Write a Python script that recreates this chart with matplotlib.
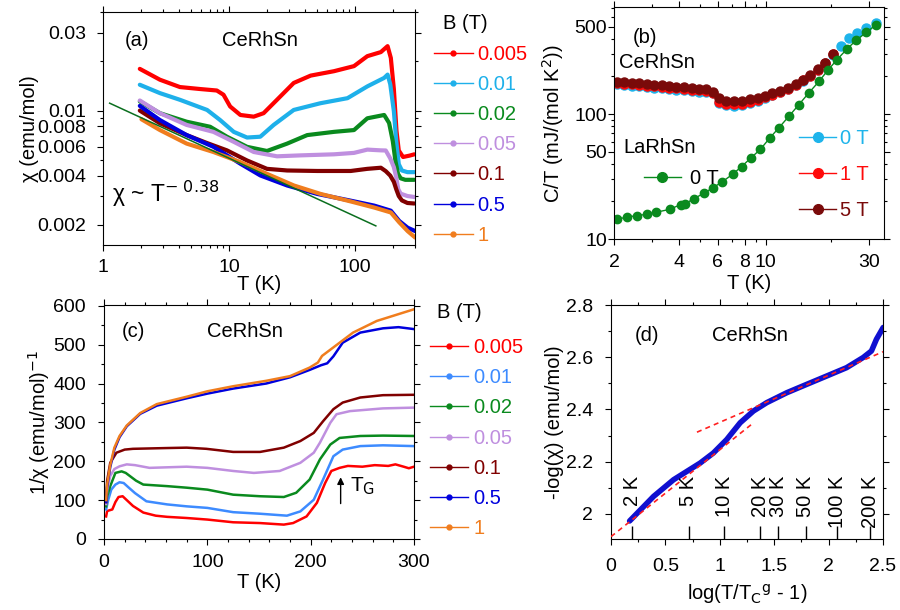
import numpy as np
import matplotlib
matplotlib.use("Agg")
from matplotlib import pyplot as plt
from matplotlib.lines import Line2D
from matplotlib.ticker import FixedLocator, NullFormatter, MultipleLocator, LogLocator

plt.rcParams['font.family'] = ['Liberation Sans', 'DejaVu Sans']
plt.rcParams['font.size'] = 14
plt.rcParams['axes.linewidth'] = 0.8

FS = 14.5  # text / label size

# field values and colours shared by panels (a) and (c)
fields = ["0.005", "0.01", "0.02", "0.05", "0.1", "0.5", "1"]
cols_a = ["#ff0000", "#1eb0ea", "#0a8a1e", "#bf8fdf", "#800000", "#0000dd", "#f07d1e"]
cols_c = ["#ff0000", "#3d8bff", "#0a8a1e", "#bf8fdf", "#800000", "#0000dd", "#f07d1e"]

# (a) chi(T), emu/mol
T_a = [
    [1.96, 2.83, 4.08, 5.89, 8.0, 9.04, 10.2, 12.3, 15.7, 18.8, 24, 32.6, 44.4, 68, 98, 125, 160,
     181, 192, 203, 213, 222, 240, 270, 295],
    [1.96, 2.83, 4.08, 6.7, 8.5, 10.9, 13.9, 17.7, 22.6, 32.6, 53, 87, 125, 170, 181, 190, 203,
     212, 222, 235, 260, 295],
    [1.96, 2.83, 4.61, 7.08, 9.62, 13.9, 20.0, 28.9, 41.7, 68, 98, 125, 170, 186, 199, 209, 219,
     230, 250, 295],
    [1.96, 2.83, 4.61, 7.52, 10.9, 15.7, 24.0, 36.9, 68, 98, 125, 160, 175, 190, 203, 212, 220,
     230, 260, 295],
    [1.96, 2.83, 4.61, 6.65, 9.62, 13.9, 20.0, 28.9, 50.1, 92.3, 125, 160, 175, 190, 203, 212,
     222, 235, 260, 295],
    [1.96, 2.83, 4.61, 7.52, 12.3, 17.7, 28.9, 50.1, 92.3, 142, 192, 224, 261, 300],
    [2.02, 2.83, 4.61, 7.52, 12.3, 20.0, 32.7, 53.2, 92.3, 142, 192, 224, 261, 300],
]
chi_a = [
    [0.0180, 0.01545, 0.01393, 0.01355, 0.01327, 0.0125, 0.0106, 0.0094, 0.00918, 0.00964, 0.01164,
     0.01476, 0.01637, 0.01742, 0.01871, 0.02153, 0.0228, 0.0248, 0.021, 0.0135, 0.0075, 0.0057,
     0.0052, 0.0053, 0.0054],
    [0.01439, 0.01279, 0.01164, 0.01009, 0.00875, 0.00741, 0.00684, 0.00692, 0.00817, 0.01009,
     0.01109, 0.01191, 0.01406, 0.01585, 0.0166, 0.0145, 0.0099, 0.0065, 0.0047, 0.0043, 0.0042,
     0.0042],
    [0.01138, 0.00964, 0.00855, 0.00796, 0.00692, 0.0060, 0.00566, 0.00628, 0.00708, 0.00741,
     0.0076, 0.00897, 0.0094, 0.0084, 0.0065, 0.0049, 0.0041, 0.00385, 0.00377, 0.00377],
    [0.01153, 0.00964, 0.00817, 0.00741, 0.00644, 0.00558, 0.00525, 0.00532, 0.0054, 0.00551,
     0.00577, 0.00571, 0.0057, 0.0051, 0.0045, 0.0039, 0.0033, 0.0031, 0.0030, 0.00296],
    [0.0100, 0.00836, 0.00708, 0.00634, 0.00571, 0.00495, 0.0044, 0.0043, 0.00427, 0.00427,
     0.0044, 0.00447, 0.00426, 0.0040, 0.00366, 0.0033, 0.0030, 0.00282, 0.00272, 0.0027],
    [0.01069, 0.00875, 0.00708, 0.0060, 0.00473, 0.00401, 0.00348, 0.00309, 0.00281, 0.00262,
     0.00244, 0.00211, 0.00192, 0.00183],
    [0.00885, 0.0076, 0.00628, 0.00558, 0.00484, 0.0041, 0.00348, 0.00309, 0.00278, 0.00255,
     0.00238, 0.00207, 0.00183, 0.00167],
]
# power-law guide line end points
fit_T = [1.13, 146]
fit_chi = [0.0111, 0.00197]

# (c) 1/chi(T)
T_c = [
    [2, 3, 8, 11, 14, 18, 22, 28, 38, 50, 61, 80, 100, 125, 151, 174, 183, 196, 206, 214, 220, 228,
     236, 250, 262, 275, 282, 290, 295, 300],
    [2, 4, 7, 11, 15, 19, 24, 30, 41, 61, 80, 100, 125, 151, 177, 190, 203, 212, 222, 231, 248,
     270, 300],
    [2, 3, 6, 11, 17, 21, 25, 31, 38, 61, 80, 100, 125, 151, 174, 186, 199, 209, 219, 228, 248,
     270, 300],
    [2, 3, 6, 10, 15, 22, 30, 44, 80, 100, 125, 145, 170, 190, 203, 209, 219, 225, 238, 270, 300],
    [2, 3, 6, 12, 20, 28, 61, 80, 99, 125, 151, 174, 190, 203, 212, 222, 231, 248, 270, 300],
    [2, 3, 6, 10, 15, 22, 35, 51, 80, 100, 125, 157, 180, 199, 210, 216, 222, 231, 248, 270, 285,
     300],
    [2, 3, 6, 10, 15, 22, 35, 51, 80, 100, 125, 157, 180, 199, 207, 211, 222, 241, 264, 300],
]
inv_c = [
    [58, 72, 76, 95, 108, 110, 100, 85, 68, 60, 57, 54, 50, 43, 41, 37, 41, 58, 93, 144, 175, 183,
     188, 186, 190, 188, 192, 186, 182, 186],
    [76, 100, 127, 140, 146, 144, 132, 118, 97, 89, 84, 80, 69, 65, 60, 71, 101, 153, 213, 230, 239,
     241, 239],
    [84, 110, 136, 170, 174, 170, 162, 150, 140, 136, 132, 127, 114, 110, 108, 119, 153, 205, 243,
     260, 265, 266, 265],
    [90, 125, 162, 180, 187, 192, 190, 183, 186, 183, 175, 170, 175, 196, 222, 248, 299, 321, 329,
     336, 338],
    [95, 150, 196, 222, 230, 232, 234, 235, 232, 224, 224, 235, 252, 273, 303, 334, 351, 364, 370,
     371],
    [95, 135, 185, 230, 262, 290, 322, 343, 362, 374, 387, 400, 416, 435, 447, 452, 470, 505, 531,
     542, 545, 540],
    [100, 140, 190, 235, 265, 292, 324, 347, 366, 380, 393, 407, 419, 441, 454, 471, 493, 531, 561,
     591],
]

# (b) specific heat C/T, mJ/(mol K^2)
T_ce = [2.06, 2.22, 2.41, 2.60, 2.83, 3.05, 3.31, 3.58, 3.88, 4.20, 4.55, 4.92, 5.33, 5.72, 6.08,
        6.59, 7.15, 7.78, 8.44, 9.16, 9.93, 10.7, 11.6, 12.6, 13.7, 14.8, 16.0, 17.3, 18.8, 20.3,
        22.1, 24.2, 26.4, 29.0, 32.1]
ct_0T = [173, 171, 169, 167, 165, 163, 161, 159, 157, 155, 153, 151, 150, 146, 123, 118, 117, 118,
         122, 128, 134, 141, 149, 159, 171, 185, 202, 225, 255, 298, 347, 405, 443, 489, 536]
ct_1T = [177, 175, 173, 171, 169, 167, 165, 163, 161, 159, 157, 155, 153, 148, 126, 121, 120, 121,
         125, 130, 136, 143, 151, 160, 172, 186, 203, 226, 254, 300]
ct_5T = [181, 179, 178, 176, 174, 172, 170, 168, 166, 164, 162, 160, 158, 150, 134, 128, 127, 128,
         131, 135, 140, 146, 153, 162, 174, 188, 205, 230, 258, 302]
T_la = [2.06, 2.29, 2.54, 2.83, 3.12, 3.62, 4.05, 4.24, 4.67, 5.20, 5.72, 6.30, 7.03, 7.73, 8.53,
        9.45, 10.4, 11.5, 12.8, 14.2, 15.8, 17.6, 19.3, 21.3, 23.6, 26.1, 29.0, 32.3]
ct_la = [14.4, 15.0, 15.4, 15.8, 16.4, 17.3, 18.9, 19.1, 21.1, 23.3, 25.8, 28.7, 33.0, 38.0, 44.5,
         52.3, 64.0, 77.8, 96.4, 119, 148, 183, 224, 273, 330, 390, 449, 520]

# (d) scaling plot
x_d = [0.171, 0.391, 0.575, 0.82, 0.94, 1.064, 1.187, 1.309, 1.431, 1.615, 1.798, 1.982, 2.165,
       2.318, 2.394, 2.44, 2.502]
y_d = [1.973, 2.067, 2.131, 2.195, 2.233, 2.285, 2.349, 2.394, 2.426, 2.464, 2.496, 2.528, 2.56,
       2.599, 2.624, 2.669, 2.714]
fit1_x, fit1_y = [0.0, 1.31], [1.913, 2.349]
fit2_x, fit2_y = [0.79, 2.50], [2.313, 2.621]
tk_pos = [0.196, 0.713, 1.043, 1.37, 1.538, 1.79, 2.08, 2.385]
tk_lab = ["2 K", "5 K", "10 K", "20 K", "30 K", "50 K", "100 K", "200 K"]


def style(ax, xpad=6, ypad=5):
    ax.tick_params(which='both', direction='out', top=True, right=True, width=0.8,
                   labelsize=14)
    ax.tick_params(which='major', length=4)
    ax.tick_params(which='minor', length=2.5)
    ax.tick_params(axis='x', pad=xpad)
    ax.tick_params(axis='y', pad=ypad)


def field_legend(ax, cols, x0, y0, tx, ty):
    handles = [Line2D([], [], color=c, lw=1, marker='o', ms=3.5) for c in cols]
    ax.legend(handles, fields, loc='upper left', bbox_to_anchor=(x0, y0), frameon=False,
              handlelength=1.9, handletextpad=0.25, labelspacing=0.55, borderaxespad=0,
              fontsize=FS, labelcolor=cols)
    ax.text(tx, ty, "B (T)", transform=ax.transAxes, fontsize=FS, va='center')


fig = plt.figure(figsize=(9, 6.1), dpi=100)

# ---- (a) chi vs T, log-log
ax = fig.add_axes([0.1144, 0.598, 0.347, 0.382])
for t, c, col in zip(T_a, chi_a, cols_a):
    ax.plot(t, c, color=col, lw=3, solid_capstyle='round')
ax.plot(fit_T, fit_chi, color='#0a6e1e', lw=1.1)
ax.set_xscale('log')
ax.set_yscale('log')
ax.set_xlim(1, 300)
ax.set_ylim(0.0015, 0.04)
ax.set_xticks([1, 10, 100], ["1", "10", "100"])
ax.set_yticks([0.002, 0.004, 0.006, 0.008, 0.01, 0.03],
              ["0.002", "0.004", "0.006", "0.008", "0.01", "0.03"])
ax.yaxis.set_minor_locator(FixedLocator([0.003, 0.005, 0.007, 0.009, 0.02, 0.04]))
ax.yaxis.set_minor_formatter(NullFormatter())
ax.xaxis.set_minor_formatter(NullFormatter())
style(ax, xpad=6, ypad=8)
ax.set_xlabel("T (K)", fontsize=FS, labelpad=-1)
ax.set_ylabel("χ (emu/mol)", fontsize=FS, labelpad=-1)
ax.text(1.5, 0.0267, "(a)", fontsize=FS, va='center')
ax.text(17.7, 0.0267, "CeRhSn", fontsize=FS, va='center', ha='center')
ax.text(1.17, 0.0031, r"χ ~ T$^{-\ 0.38}$", fontsize=16.5, va='center')
field_legend(ax, cols_a, 1.035, 0.893, 1.09, 0.953)

# ---- (b) specific heat
ax = fig.add_axes([0.6822, 0.608, 0.3, 0.3808])
ax.plot(T_ce, ct_0T, 'o', color='#1eb4eb', ms=6.5)
ax.plot(T_ce[:len(ct_1T)], ct_1T, 'o', color='#ff0a0a', ms=6.5)
ax.plot(T_ce[:len(ct_5T)], ct_5T, 'o', color='#7a0a0a', ms=6.5)
ax.plot(T_la, ct_la, 'o-', color='#0a8a1e', ms=6, lw=1)
ax.set_xscale('log')
ax.set_yscale('log')
ax.set_xlim(2, 35)
ax.set_ylim(10, 720)
ax.set_xticks([2, 4, 6, 8, 10, 30], ["2", "4", "6", "8", "10", "30"])
ax.xaxis.set_minor_locator(FixedLocator([3, 5, 7, 9, 20]))
ax.xaxis.set_minor_formatter(NullFormatter())
ax.set_yticks([10, 50, 100, 500], ["10", "50", "100", "500"])
ax.yaxis.set_minor_locator(LogLocator(subs=(2, 3, 4, 6, 7, 8, 9)))
ax.yaxis.set_minor_formatter(NullFormatter())
style(ax, xpad=7, ypad=1)
ax.tick_params(axis='y', which='both', right=True)
ax.set_xlabel("T (K)", fontsize=FS, labelpad=2)
ax.set_ylabel("C/T (mJ/(mol K$^2$))", fontsize=FS, labelpad=6)
ax.text(0.07, 0.87, "(b)", transform=ax.transAxes, fontsize=FS, va='center')
ax.text(0.02, 0.76, "CeRhSn", transform=ax.transAxes, fontsize=FS, va='center')
ax.text(0.035, 0.395, "LaRhSn", transform=ax.transAxes, fontsize=FS, va='center')
ce_cols = ['#1eb4eb', '#ff0a0a', '#7a0a0a']
ce_handles = [Line2D([], [], color=c, lw=1, marker='o', ms=7) for c in ce_cols]
leg = ax.legend(ce_handles, ["0 T", "1 T", "5 T"], loc='upper left', bbox_to_anchor=(0.655, 0.508),
                frameon=False, handlelength=1.85, handletextpad=0.2, labelspacing=0.85,
                borderaxespad=0, fontsize=FS, labelcolor=ce_cols)
ax.add_artist(leg)
ax.legend([Line2D([], [], color='#0a8a1e', lw=1, marker='o', ms=7)], ["0 T"], loc='upper left',
          bbox_to_anchor=(0.08, 0.335), frameon=False, handlelength=1.85, handletextpad=0.45,
          borderaxespad=0, fontsize=FS)

# ---- (c) inverse susceptibility
ax = fig.add_axes([0.1156, 0.1164, 0.3444, 0.3836])
for t, v, col in zip(T_c, inv_c, cols_c):
    ax.plot(t, v, color=col, lw=1.8)
ax.set_xlim(0, 300)
ax.set_ylim(0, 602)
ax.xaxis.set_major_locator(MultipleLocator(100))
ax.xaxis.set_minor_locator(MultipleLocator(20))
ax.yaxis.set_major_locator(MultipleLocator(100))
ax.yaxis.set_minor_locator(MultipleLocator(50))
style(ax, xpad=7, ypad=9)
ax.set_xlabel("T (K)", fontsize=FS, labelpad=1)
ax.set_ylabel("1/χ (emu/mol)$^{-1}$", fontsize=FS, labelpad=1)
ax.text(28, 533, "(c)", fontsize=FS, va='center', ha='center')
ax.text(136, 533, "CeRhSn", fontsize=FS, va='center', ha='center')
ax.annotate("", xy=(229, 166), xytext=(229, 84),
            arrowprops=dict(arrowstyle='-|>', color='black', lw=1, mutation_scale=10))
ax.text(238, 135, "T$_{\\rm G}$", fontsize=15, va='center')
field_legend(ax, cols_c, 1.025, 0.892, 1.074, 0.97)

# ---- (d) scaling
ax = fig.add_axes([0.6789, 0.1164, 0.3022, 0.3836])
ax.plot(fit1_x, fit1_y, '--', color='#ff2020', lw=1.2, dashes=(3, 2.5), zorder=3)
ax.plot(fit2_x, fit2_y, '--', color='#ff2020', lw=1.2, dashes=(3, 2.5), zorder=3)
ax.plot(x_d, y_d, color='#1010d0', lw=4, solid_capstyle='round', zorder=2)
ax.vlines(tk_pos, 1.904, 1.955, color='black', lw=1)
for p, s in zip(tk_pos, tk_lab):
    ax.text(p, 2.146, s, rotation=90, ha='center', va='top', fontsize=FS)
ax.set_xlim(0, 2.5)
ax.set_ylim(1.904, 2.8)
ax.set_xticks([0, 0.5, 1, 1.5, 2, 2.5], ["0", "0.5", "1", "1.5", "2", "2.5"])
ax.set_yticks([2, 2.2, 2.4, 2.6, 2.8], ["2", "2.2", "2.4", "2.6", "2.8"])
ax.xaxis.set_minor_locator(MultipleLocator(0.25))
ax.yaxis.set_minor_locator(MultipleLocator(0.1))
style(ax, xpad=10, ypad=9)
ax.set_xlabel("log(T/T$_{\\rm C}$$^{\\rm g}$ - 1)", fontsize=FS, labelpad=5)
ax.set_ylabel("-log(χ) (emu/mol)", fontsize=FS, labelpad=1)
ax.text(0.22, 2.685, "(d)", fontsize=FS, va='center')
ax.text(0.93, 2.685, "CeRhSn", fontsize=FS, va='center')

fig.savefig("out.png", dpi=100)
